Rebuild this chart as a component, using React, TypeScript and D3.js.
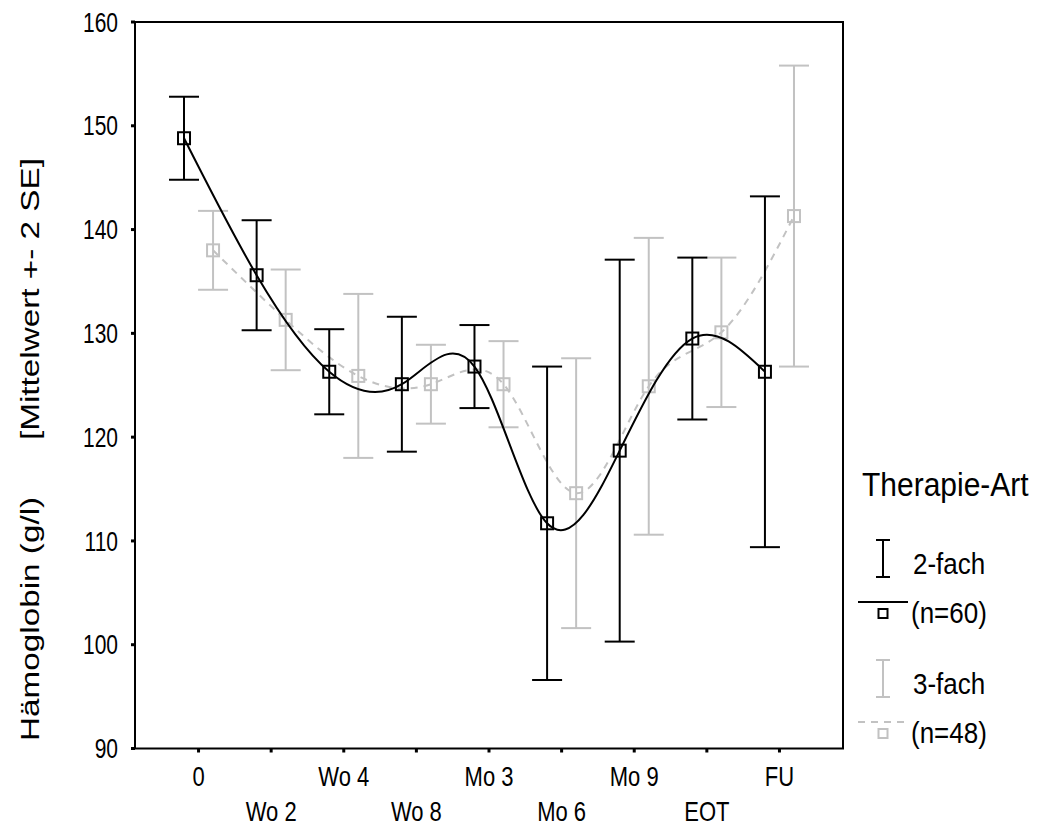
import React from "react";
import * as d3 from "d3";

// Visits on the time axis
const categories = ["0", "Wo 2", "Wo 4", "Wo 8", "Mo 3", "Mo 6", "Mo 9", "EOT", "FU"];

// 2-fach therapy (n=60): mean haemoglobin and 2*SE half-width
const mean2 = [148.8, 135.6, 126.3, 125.1, 126.8, 111.7, 118.7, 129.5, 126.3];
const err2 = [4.0, 5.3, 4.1, 6.5, 4.0, 15.1, 18.4, 7.8, 16.9];

// 3-fach therapy (n=48)
const mean3 = [138.0, 131.3, 125.9, 125.1, 125.1, 114.6, 124.9, 130.1, 141.3];
const err3 = [3.8, 4.85, 7.9, 3.8, 4.15, 13.0, 14.3, 7.2, 14.5];

const yTicks = [90, 100, 110, 120, 130, 140, 150, 160];

const series = [
  { name: "3-fach", n: "(n=48)", mean: mean3, err: err3, color: "#c2c2c2", dash: "7,6", shift: 1 },
  { name: "2-fach", n: "(n=60)", mean: mean2, err: err2, color: "#000000", dash: null, shift: -1 },
];

const FONT = "'Liberation Sans', Arial, Helvetica, sans-serif";
// glyphs are drawn slightly taller than wide
const TALL = 1.28;

export default function App() {
  const W = 1050;
  const H = 831;
  const left = 135;
  const right = 843;
  const top = 22;
  const bottom = 748.5;

  const x = d3.scalePoint<string>().domain(categories).range([left, right]).padding(0.875);
  const y = d3.scaleLinear().domain([90, 160]).range([bottom, top]);
  const off = x.step() * 0.2;

  const line = d3
    .line<[number, number]>()
    .x((d) => d[0])
    .y((d) => d[1])
    .curve(d3.curveNatural);

  const cap = 15;
  const ms = 12;

  return (
    <svg
      width={W}
      height={H}
      style={{ position: "absolute", left: 0, top: 0, display: "block", background: "#fff" }}
      fontFamily={FONT}
    >
      {/* frame */}
      <rect x={left} y={top} width={right - left} height={bottom - top} fill="none" stroke="#000" strokeWidth={2} />

      {/* y ticks */}
      {yTicks.map((t) => (
        <g key={t}>
          <line x1={left - 4} x2={left} y1={y(t)} y2={y(t)} stroke="#000" strokeWidth={3} />
          <text
            transform={`translate(118,${y(t)}) scale(1,${TALL})`}
            dy="0.36em"
            textAnchor="end"
            fontSize={21}
          >
            {t}
          </text>
        </g>
      ))}

      {/* x ticks and staggered labels */}
      {categories.map((c, i) => (
        <g key={c}>
          <line x1={x(c)!} x2={x(c)!} y1={bottom} y2={bottom + 4} stroke="#000" strokeWidth={3} />
          <text
            transform={`translate(${x(c)},${i % 2 === 0 ? 786 : 821}) scale(1,${TALL})`}
            textAnchor="middle"
            fontSize={22}
          >
            {c}
          </text>
        </g>
      ))}

      {/* y axis title */}
      <text transform={`translate(39,741) scale(1,${TALL}) rotate(-90)`} fontSize={26} textAnchor="start">
        Hämoglobin (g/l)
      </text>
      <text transform={`translate(39,440) scale(1,${TALL}) rotate(-90)`} fontSize={26} textAnchor="start">
        [Mittelwert +- 2 SE]
      </text>

      {/* series */}
      {series.map((s) => {
        const pts: [number, number][] = categories.map((c, i) => [x(c)! + s.shift * off, y(s.mean[i])]);
        return (
          <g key={s.name}>
            <path
              d={line(pts) || ""}
              fill="none"
              stroke={s.color}
              strokeWidth={2}
              strokeDasharray={s.dash || undefined}
            />
            {categories.map((c, i) => {
              const cx = x(c)! + s.shift * off;
              const hi = y(s.mean[i] + s.err[i]);
              const lo = y(s.mean[i] - s.err[i]);
              return (
                <g key={c} stroke={s.color} strokeWidth={2} fill="none">
                  <line x1={cx} x2={cx} y1={hi} y2={lo} />
                  <line x1={cx - cap} x2={cx + cap} y1={hi} y2={hi} />
                  <line x1={cx - cap} x2={cx + cap} y1={lo} y2={lo} />
                  <rect x={cx - ms / 2} y={y(s.mean[i]) - ms / 2} width={ms} height={ms} />
                </g>
              );
            })}
          </g>
        );
      })}

      {/* legend */}
      <text transform={`translate(862,496) scale(1,1.1)`} fontSize={30}>
        Therapie-Art
      </text>
      {[
        { s: series[1], y0: 540 },
        { s: series[0], y0: 660 },
      ].map(({ s, y0 }) => (
        <g key={s.name}>
          <g stroke={s.color} strokeWidth={2} fill="none">
            <line x1={883} x2={883} y1={y0} y2={y0 + 37} />
            <line x1={876} x2={890} y1={y0} y2={y0} />
            <line x1={876} x2={890} y1={y0 + 37} y2={y0 + 37} />
            <line x1={858} x2={908} y1={y0 + 62} y2={y0 + 62} strokeDasharray={s.dash || undefined} />
            <rect x={878.5} y={y0 + 69} width={9} height={9} />
          </g>
          <text transform={`translate(913,${y0 + 34}) scale(1,1.1)`} fontSize={26}>
            {s.name}
          </text>
          <text transform={`translate(911,${y0 + 83}) scale(1,1.1)`} fontSize={26}>
            {s.n}
          </text>
        </g>
      ))}
    </svg>
  );
}
